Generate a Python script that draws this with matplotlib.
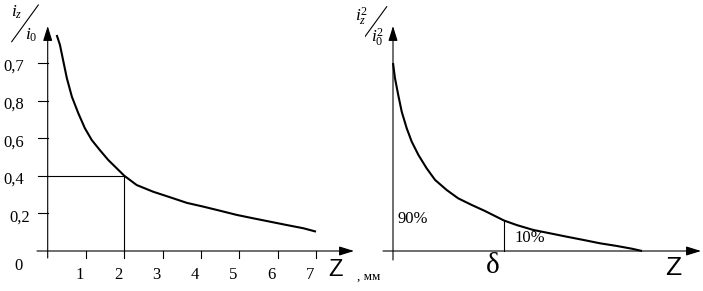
import matplotlib
matplotlib.use("Agg")
import matplotlib.pyplot as plt

plt.rcParams['font.family'] = ['Liberation Serif', 'DejaVu Serif']
plt.rcParams['mathtext.fontset'] = 'custom'
plt.rcParams['mathtext.rm'] = 'Liberation Serif'
plt.rcParams['mathtext.it'] = 'Liberation Serif:italic'

# ---- data ----
left_x = [0.235, 0.32, 0.41, 0.50, 0.63, 0.80, 0.97, 1.15, 1.36, 1.58, 1.80,
          2.0, 2.32, 2.755, 3.19, 3.63, 4.06, 4.50, 4.93, 5.36, 5.80, 6.24,
          6.67, 7.0]
left_y = [1.149, 1.096, 1.007, 0.919, 0.821, 0.732, 0.653, 0.590, 0.537,
          0.484, 0.440, 0.400, 0.351, 0.315, 0.286, 0.256, 0.236, 0.214,
          0.192, 0.174, 0.156, 0.138, 0.121, 0.103]
left_xticks = [1, 2, 3, 4, 5, 6, 7]
left_xticklabels = ['1', '2', '3', '4', '5', '6', '7']
left_yticks = [0.2, 0.4, 0.6, 0.8, 1.0]
left_yticklabels = ['0,2', '0,4', '0,6', '0,8', '0,7']
marker_x = 2.0
marker_y = 0.40

right_x = [0.0, 0.008, 0.021, 0.035, 0.055, 0.075, 0.102, 0.135, 0.169,
           0.216, 0.262, 0.316, 0.369, 0.446, 0.497, 0.563, 0.631, 0.698,
           0.764, 0.831, 0.898, 0.960, 1.0]
right_y = [1.0, 0.919, 0.830, 0.741, 0.653, 0.582, 0.511, 0.440, 0.378,
           0.324, 0.280, 0.245, 0.213, 0.162, 0.138, 0.112, 0.094, 0.076,
           0.059, 0.041, 0.027, 0.012, 0.0]
delta_x = 0.446
delta_y = 0.162

W, H = 703, 291
fig = plt.figure(figsize=(W / 100, H / 100), dpi=100)

# pixel helpers
def lx(p): return (p - 47.7) / 38.33
def rx(p): return (p - 393.0) / 249.0
def yy(p): return (251.0 - p) / 188.0

axL = fig.add_axes([0, 0, 360 / W, 1])
axR = fig.add_axes([365 / W, 0, 338 / W, 1])
axL.set_xlim(lx(0), lx(360)); axL.set_ylim(yy(291), yy(0))
axR.set_xlim(rx(365), rx(703)); axR.set_ylim(yy(291), yy(0))
for a in (axL, axR):
    a.axis('off')

arrow_kw = dict(arrowstyle='-|>,head_length=0.9,head_width=0.28', color='black',
                lw=0.8, shrinkA=0, shrinkB=0, mutation_scale=10)

def axis_arrow(ax, x0, y0, x1, y1):
    ax.annotate('', xy=(x1, y1), xytext=(x0, y0), arrowprops=arrow_kw,
                annotation_clip=False)

# ---- left chart ----
axis_arrow(axL, lx(37), 0, lx(354), 0)
axis_arrow(axL, 0, yy(258), 0, yy(26))
for t in left_xticks:
    axL.plot([t, t], [0, yy(258)], color='black', lw=0.8)
for t in left_yticks:
    axL.plot([lx(38), 0], [t, t], color='black', lw=0.8)
for t, s in zip(left_xticks, left_xticklabels):
    axL.text(t - 0.16, yy(275), s, ha='center', va='center', fontsize=12)
for t, s in zip(left_yticks, left_yticklabels):
    xoff = lx(9) if s == '0,2' else lx(3)
    axL.text(xoff, t - 0.022, s, ha='left', va='center', fontsize=12)
axL.text(lx(18.5), yy(266), '0', ha='center', va='center', fontsize=12)

axL.plot(left_x, left_y, color='black', lw=1.5, solid_capstyle='butt',
         solid_joinstyle='round')
axL.plot([0, marker_x], [marker_y, marker_y], color='black', lw=0.8)
axL.plot([marker_x, marker_x], [0, marker_y], color='black', lw=0.8)

axL.text(lx(335.5), yy(269.5), 'Z', ha='center', va='center', fontsize=17,
         family='Liberation Sans')
axL.text(lx(357), yy(277), ', мм', ha='left', va='center', fontsize=9.5)

axL.plot([lx(11.7), lx(38.3)], [yy(41.7), yy(5)], color='black', lw=0.8)
axL.text(lx(17), yy(12), r'$i_z$', ha='center', va='center', fontsize=12.5)
axL.text(lx(31.5), yy(35), r'$i_0$', ha='center', va='center', fontsize=12.5)

# ---- right chart ----
axis_arrow(axR, rx(383), 0, rx(701), 0)
axis_arrow(axR, 0, yy(260), 0, yy(26))
axR.plot(right_x, right_y, color='black', lw=1.5, solid_capstyle='butt',
         solid_joinstyle='round')
axR.plot([delta_x, delta_x], [0, delta_y], color='black', lw=0.8)

axR.text(rx(397), yy(219), '90%', ha='left', va='center', fontsize=12)
axR.text(rx(514), yy(238), '10%', ha='left', va='center', fontsize=12)
axR.text(rx(493), yy(266), 'δ', ha='center', va='center', fontsize=21)
axR.text(rx(673), yy(268), 'Z', ha='center', va='center', fontsize=19,
         family='Liberation Sans')

axR.plot([rx(356.7), rx(386.7)], [yy(48), yy(6.7)], color='black', lw=0.8)
axR.text(rx(362), yy(16), r'$i_z^2$', ha='center', va='center', fontsize=12.5)
axR.text(rx(378), yy(38), r'$i_0^2$', ha='center', va='center', fontsize=12.5)

fig.savefig('out.png', dpi=100)
